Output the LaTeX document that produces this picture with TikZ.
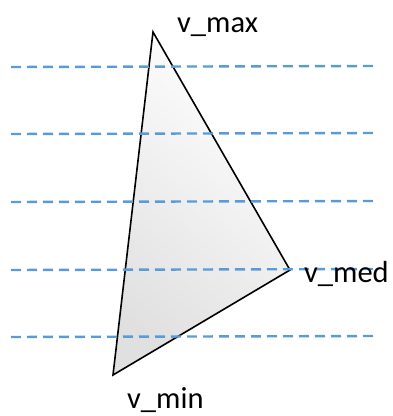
\documentclass[tikz,border=0pt]{standalone}
\usepackage{fontspec}
\setmainfont{Carlito}
\definecolor{dashblue}{HTML}{5B9BD5}
\begin{document}
\begin{tikzpicture}[x=1pt,y=1pt,
  level/.style={draw=dashblue, line width=2.4pt, dash pattern=on 10pt off 6pt},
  tri/.style={draw=black, line width=1.6pt, line join=miter},
  lbl/.style={anchor=base west, inner sep=0pt, font=\fontsize{30.5}{36}\selectfont}]
\useasboundingbox (0,0) rectangle (393,416);
\coordinate (vmax) at (153,384);
\coordinate (vmed) at (290,146);
\coordinate (vmin) at (113,41);
\shade[top color=white, middle color=white, bottom color=gray!24, shading angle=-40]
  (vmax) -- (vmed) -- (vmin) -- cycle;
\draw[tri] (vmax) -- (vmed) -- (vmin) -- cycle;
\foreach \i/\y in {1/349,2/282,3/214,4/146,5/79}{
  \coordinate (l\i a) at (11,\y);
  \coordinate (l\i b) at (377,\y+1);
  \draw[level] (l\i a) -- (l\i b);
}
\node[lbl] (tmax) at (177,383) {v\_max};
\node[lbl] (tmed) at (304,133) {v\_med};
\node[lbl] (tmin) at (127,8) {v\_min};
\end{tikzpicture}
\end{document}
